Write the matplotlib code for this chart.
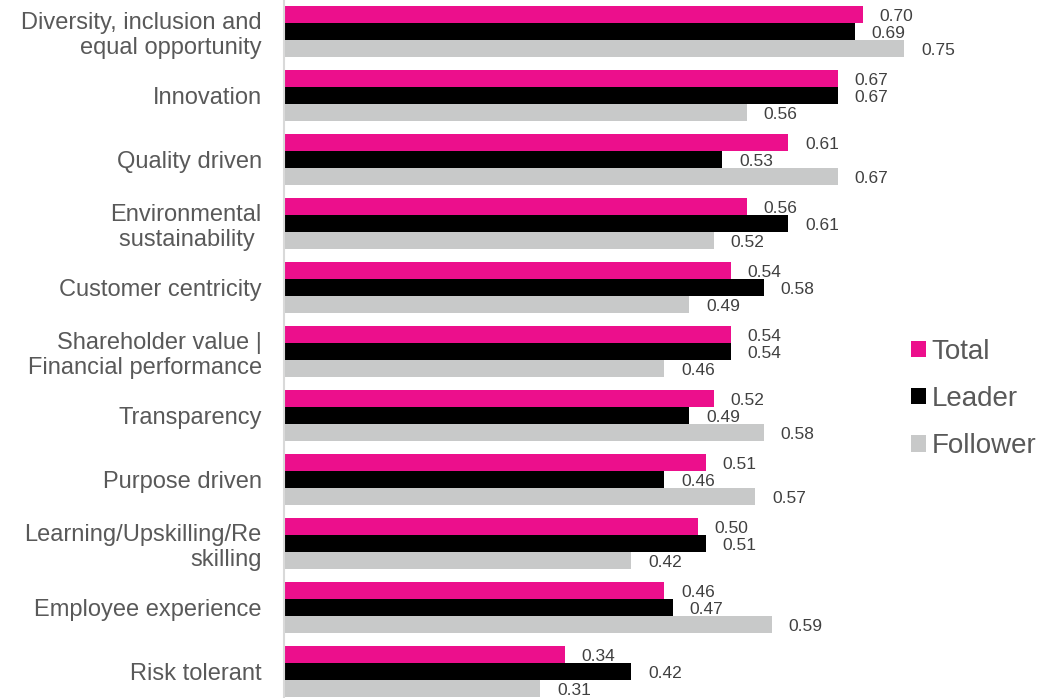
import matplotlib
matplotlib.use("Agg")
import matplotlib.pyplot as plt
import numpy as np

categories = [
    "Diversity, inclusion and\nequal opportunity",
    "Innovation",
    "Quality driven",
    "Environmental\nsustainability ",
    "Customer centricity",
    "Shareholder value |\nFinancial performance",
    "Transparency",
    "Purpose driven",
    "Learning/Upskilling/Re\nskilling",
    "Employee experience",
    "Risk tolerant",
]
total = [0.70, 0.67, 0.61, 0.56, 0.54, 0.54, 0.52, 0.51, 0.50, 0.46, 0.34]
leader = [0.69, 0.67, 0.53, 0.61, 0.58, 0.54, 0.49, 0.46, 0.51, 0.47, 0.42]
follower = [0.75, 0.56, 0.67, 0.52, 0.49, 0.46, 0.58, 0.57, 0.42, 0.59, 0.31]
series_names = ["Total", "Leader", "Follower"]
colors = ["#EC0F8C", "#000000", "#C8C9C9"]

plt.rcParams['font.family'] = ['Liberation Sans', 'DejaVu Sans']

W, H = 1042, 698
fig = plt.figure(figsize=(W / 100, H / 100), dpi=100)
px_per_unit = 827
xmax = 0.8
left_px = 284
ax = fig.add_axes([left_px / W, 0, xmax * px_per_unit / W, 1])

group_px = 64
bar_px = 17
n = len(categories)
units_h = H / group_px
top = -(31.5 / group_px)
ax.set_ylim(top + units_h, top)
ax.set_xlim(0, xmax)

y = np.arange(n)
bh = bar_px / group_px
offsets = [-bh, 0, bh]
for vals, name, col, off in zip([total, leader, follower], series_names, colors, offsets):
    bars = ax.barh(y + off, vals, height=bh, color=col, label=name, edgecolor='none')
    for b, v in zip(bars, vals):
        ax.annotate(f"{v:.2f}", (v, b.get_y() + b.get_height() / 2),
                    xytext=(12, -1.5), textcoords='offset points',
                    ha='left', va='center', fontsize=12.5, color='#404040')

ax.set_yticks(y)
ax.set_yticklabels(categories, fontsize=17, color='#595959', linespacing=1.15)
ax.tick_params(axis='y', length=0, pad=16)
ax.tick_params(axis='x', length=0, labelbottom=False)
for s in ['top', 'right', 'bottom']:
    ax.spines[s].set_visible(False)
ax.spines['left'].set_color('#D9D9D9')
ax.spines['left'].set_linewidth(1.5)

leg = fig.legend(loc='center left', bbox_to_anchor=(911 / W, 1 - 399 / H),
                 frameon=False, fontsize=20, handlelength=0.54, handleheight=0.54,
                 handletextpad=0.2, labelspacing=0.76, borderpad=0,
                 borderaxespad=0)
for t in leg.get_texts():
    t.set_color('#595959')

fig.savefig("out.png", dpi=100)
